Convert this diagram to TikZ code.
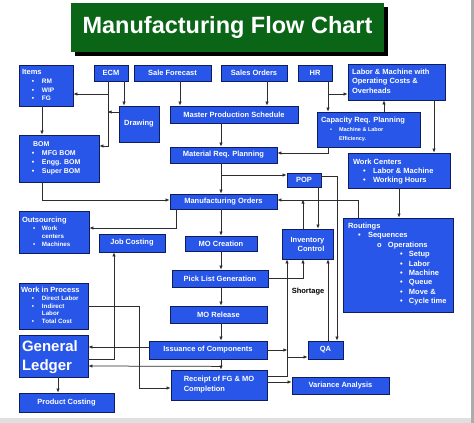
\documentclass[tikz,border=0pt]{standalone}
\usepackage{fontspec}
\setmainfont{Liberation Sans}
\usetikzlibrary{arrows.meta}
\definecolor{boxblue}{RGB}{40,86,232}
\definecolor{boxedge}{RGB}{14,28,96}
\definecolor{titlegreen}{RGB}{10,102,22}
\definecolor{linegray}{RGB}{45,45,45}
\newcommand\bl[3]{\hspace*{#1pt}\makebox[#2pt][l]{•}#3}
\newcommand\cbox[7][]{\node[box,minimum width={#5-#3},minimum height={#6-#4},#1] (#2) at ({(#3+#5)/2},{(#4+#6)/2}) {#7};}
\newcommand\lbox[8][]{\node[box,inner sep=0pt,#1] (#2) at ({(#3+#5)/2},{(#4+#6)/2}) {\parbox[c][\dimexpr#6pt-#4pt\relax][t]{\dimexpr#5pt-#3pt\relax}{\vspace*{#7pt}#8}};}
\begin{document}
\begin{tikzpicture}[x=1pt,y=-1pt,
  box/.style={draw=boxedge,fill=boxblue,line width=0.8pt,text=white,inner sep=1pt,
    font=\bfseries\fontsize{7.5}{9}\selectfont},
  arr/.style={draw=linegray,line width=0.75pt,-{Latex[length=4pt,width=3.4pt]}}]
\useasboundingbox (0,0) rectangle (474,423);
\fill[white] (0,0) rectangle (474,423);
\fill[gray!25] (0,418) rectangle (474,423);
\fill[gray!65] (471,0) rectangle (474,423);
% title
\fill[black] (75,7) rectangle (388,56);
\node[fill=titlegreen,text=white,minimum width=313,minimum height=49,inner sep=0pt,
  font=\bfseries\fontsize{23.5}{28}\selectfont] (title) at (227.5,27.5) {\raisebox{-5pt}{Manufacturing Flow Chart}};
% single-line boxes
\cbox{ecm}{94}{65}{128}{81}{ECM}
\cbox{sf}{134}{65}{211}{81}{Sale Forecast}
\cbox{so}{221}{65}{287}{81}{Sales Orders}
\cbox{hr}{298}{65}{332}{81}{HR}
\cbox{drw}{119}{106}{159}{142}{Drawing}
\cbox{mps}{170}{106}{298}{123}{Master Production Schedule}
\cbox{mrp}{170}{147}{277}{163}{Material Req. Planning}
\cbox{pop}{287}{173}{321}{187}{POP}
\cbox{mo}{170}{194}{277}{209}{Manufacturing Orders}
\cbox{jc}{99}{234}{165}{252}{Job Costing}
\cbox{moc}{185}{236}{257}{251}{MO Creation}
\cbox[align=right]{ic}{282}{229}{333}{259}{Inventory\\Control}
\cbox{pl}{172}{270}{268}{287}{Pick List Generation}
\cbox{mor}{170}{306}{267}{323}{MO Release}
\cbox{iss}{149}{341}{267}{359}{Issuance of Components}
\cbox{qa}{308}{341}{343}{359}{QA}
\cbox[align=left,font=\bfseries\fontsize{7.5}{10}\selectfont]{rec}{171}{370}{267}{400}{Receipt of FG \& MO\\Completion}
\cbox{va}{292}{377}{389}{394}{Variance Analysis}
\cbox{pc}{19}{393}{114}{412}{Product Costing}
% list boxes
\lbox{items}{19}{65}{73}{106}{4.5}{\fontsize{6.5}{8.7}\selectfont\hspace*{3pt}{\fontsize{7.5}{8.7}\selectfont Items}\\
  \bl{13}{10}{RM}\\ \bl{13}{10}{WIP}\\ \bl{13}{10}{FG}}
\lbox{bom}{19}{135}{99}{182}{7}{\fontsize{7}{9}\selectfont\hspace*{14pt}BOM\\
  \bl{13}{10}{MFG BOM}\\ \bl{13}{10}{Engg. BOM}\\ \bl{13}{10}{Super BOM}}
\lbox{out}{19}{211}{89}{253}{6.5}{\fontsize{6.2}{8}\selectfont\hspace*{3pt}{\fontsize{7.5}{8}\selectfont Outsourcing}\\
  \bl{14}{9}{Work}\\ \hspace*{23pt}centers\\ \bl{14}{9}{Machines}}
\lbox{wip}{19}{283}{88}{329}{4}{\fontsize{6.2}{7.8}\selectfont\hspace*{2pt}{\fontsize{7.5}{7.8}\selectfont Work in Process}\\
  \bl{13}{10}{Direct Labor}\\ \bl{13}{10}{Indirect}\\ \hspace*{23pt}Labor\\ \bl{13}{10}{Total Cost}}
\lbox{gl}{19}{335}{88}{377}{6}{\fontsize{15}{19}\selectfont\hspace*{3pt}General\\ \hspace*{3pt}Ledger}
\lbox{lm}{348}{64}{445}{100}{5}{\fontsize{7.5}{9.5}\selectfont\hspace*{4pt}Labor \& Machine with\\
  \hspace*{4pt}Operating Costs \&\\ \hspace*{4pt}Overheads}
\lbox{crp}{317}{112}{420}{147}{4.6}{\fontsize{5.5}{9}\selectfont\hspace*{4pt}{\fontsize{7.5}{9}\selectfont Capacity Req. Planning}\\
  \bl{13}{9}{Machine \& Labor}\\ \hspace*{22pt}Efficiency.}
\lbox{wc}{348}{153}{450}{188}{5.6}{\fontsize{7.5}{9.2}\selectfont\hspace*{5pt}Work Centers\\
  \bl{15}{10}{Labor \& Machine}\\ \bl{15}{10}{Working Hours}}
\lbox{rt}{343}{218}{453}{312}{5}{\fontsize{7.5}{9.4}\selectfont\hspace*{5pt}Routings\\
  \bl{15}{10}{Sequences}\\ \hspace*{34pt}\makebox[11pt][l]{o}Operations\\
  \bl{57}{9}{Setup}\\ \bl{57}{9}{Labor}\\ \bl{57}{9}{Machine}\\ \bl{57}{9}{Queue}\\
  \bl{57}{9}{Move \&}\\ \bl{57}{9}{Cycle time}}
\node[font=\bfseries\fontsize{7.5}{9}\selectfont,text=black] (shortage) at (308,292) {Shortage};
% connectors
\draw[arr] ([xshift=-3pt]ecm.south) |- ([yshift=12.5pt]bom.east);
\draw[arr] ([xshift=-3pt]ecm.south) |- ([yshift=-8.5pt]items.east);
\draw[arr] ([xshift=13pt]ecm.south) -- ([xshift=-15pt]drw.north);
\draw[arr] ([yshift=12pt]drw.west) -- ++(-11,0);
\draw[arr] ([xshift=-4pt]items.south) -- ([xshift=-17pt]bom.north);
\draw[arr] ([xshift=7.5pt]sf.south) -- ([xshift=-54pt]mps.north);
\draw[arr] ([xshift=13pt]so.south) -- ([xshift=33pt]mps.north);
\draw[arr] ([xshift=13pt]hr.south) -- ([xshift=-40.5pt]crp.north);
\draw[arr] ([xshift=13pt]hr.south) |- ([yshift=-12pt]lm.west);
\draw[arr] ([xshift=15.5pt]crp.north) -- ([xshift=-12.5pt]lm.south);
\draw[arr] ([xshift=37.5pt]lm.south) -- ([xshift=35pt]wc.north);
\draw[arr] ([xshift=-40.5pt]crp.south) |- ([yshift=2pt]mrp.east);
\draw[arr] ([xshift=-13pt]mps.south) -- ([xshift=-2.5pt]mrp.north);
\draw[arr] ([xshift=-2.5pt]mrp.south) -- ([xshift=-2.5pt]mo.north);
\draw[arr] ([xshift=-2.5pt]mrp.south) |- ([yshift=5pt]pop.west);
\draw[arr] ([xshift=-17pt]bom.south) |- ([yshift=1.5pt]mo.west);
\draw[arr] ([xshift=-47.5pt]mo.south) |- ([yshift=4pt]out.east);
\draw[arr] ([xshift=-2.5pt]mo.south) -- (moc.north);
\draw[arr] (moc.south) -- ([xshift=1pt]pl.north);
\draw[arr] ([xshift=1pt]pl.south) -- ([xshift=2.5pt]mor.north);
\draw[arr] ([xshift=2.5pt]mor.south) -- ([xshift=13pt]iss.north);
\draw[arr] ([xshift=13pt]iss.south) -- ([xshift=2pt]rec.north);
\draw[arr] ([xshift=14pt]pop.south) -- ([xshift=10.5pt]ic.north);
\draw[arr] ([yshift=4pt]pop.east) -| ([xshift=11.5pt]qa.north);
\draw[arr] ([xshift=-40pt]rt.north) |- ([yshift=1.5pt]mo.east);
\draw[arr] ([xshift=-4.5pt]ic.north) -- ++(0,-29);
\draw[arr] (pl.east) -| ([xshift=-4.5pt]ic.south);
\draw[arr] ([yshift=9pt]rec.east) -| ([xshift=-20.5pt]ic.south);
\draw[arr] (iss.east) -- ++(20,0);
\draw[arr] ([xshift=-21pt,yshift=-7pt]qa.west) -- ([yshift=-7pt]qa.west);
\draw[arr] ([xshift=2.5pt]qa.north) -- ([xshift=20.5pt]ic.south);
\draw[arr] (wc.south) -- ([xshift=1pt]rt.north);
\draw[arr] ([yshift=3pt]rec.east) -- ([yshift=3.5pt]va.west);
\draw[arr] ([yshift=3pt]iss.west) -- ([yshift=9pt]gl.east);
\draw[arr] ([xshift=13pt,yshift=-7pt]iss.south) -- ([yshift=-10pt]gl.east);
\draw[arr] ([yshift=-3pt]gl.east) -| ([xshift=-18pt]jc.south);
\draw[arr] (wip.east) -- ++(51,0) |- ([yshift=-3pt]rec.west);
\draw[arr] ([xshift=4.5pt]gl.south) -- ([xshift=-8.5pt]pc.north);
\end{tikzpicture}
\end{document}
